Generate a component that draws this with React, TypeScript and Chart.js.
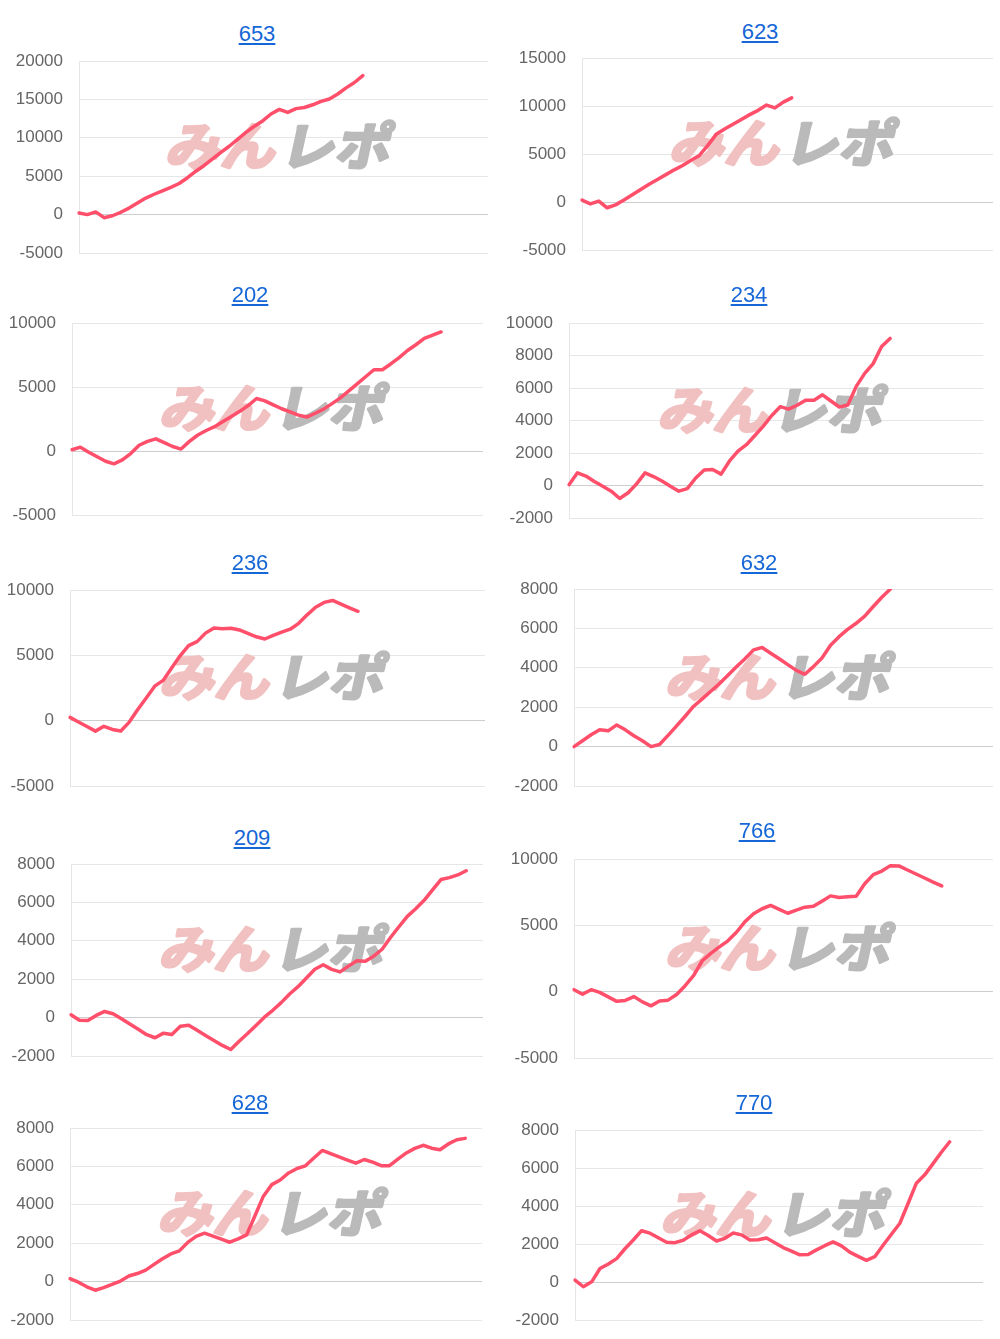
import React, { useEffect, useRef } from 'react';
import { Chart, registerables } from 'chart.js';

Chart.register(...registerables);

// ---------------- data ----------------
const SLOT_COUNT = 50;
const X_LABELS: string[] = Array.from({ length: SLOT_COUNT }, (_, i) => String(i + 1));

const TITLES = ['653', '623', '202', '234', '236', '632', '209', '766', '628', '770'];

const S653 = [200, 0, 350, -400, -150, 300, 850, 1500, 2150, 2650, 3100, 3550, 4050, 4800, 5650, 6400, 7250, 8100, 8900, 9800, 10700, 11500, 12200, 13100, 13700, 13300, 13800, 13950, 14300, 14750, 15050, 15700, 16500, 17200, 18100];
const S623 = [200, -200, 100, -600, -300, 200, 750, 1300, 1850, 2350, 2850, 3350, 3800, 4350, 4850, 5900, 7050, 7600, 8100, 8600, 9100, 9550, 10100, 9800, 10400, 10850];
const S202 = [100, 300, -100, -450, -800, -1000, -700, -200, 450, 750, 950, 650, 350, 150, 750, 1250, 1600, 1900, 2300, 2700, 3100, 3550, 4100, 3920, 3600, 3300, 3050, 2800, 2650, 2950, 3270, 3700, 4150, 4700, 5250, 5800, 6350, 6350, 6800, 7300, 7850, 8300, 8800, 9050, 9300];
const S234 = [50, 780, 580, 250, -50, -350, -800, -450, 100, 780, 550, 275, -40, -350, -190, 460, 960, 980, 700, 1510, 2120, 2510, 3080, 3650, 4310, 4850, 4700, 4940, 5250, 5250, 5580, 5200, 4830, 4950, 6100, 6900, 7500, 8550, 9050];
const S236 = [250, -100, -450, -800, -430, -670, -790, -110, 850, 1740, 2640, 3080, 4030, 4960, 5740, 6050, 6700, 7100, 7030, 7070, 6940, 6680, 6420, 6250, 6520, 6770, 7000, 7450, 8100, 8680, 9050, 9200, 8920, 8640, 8370];
const S632 = [0, 300, 600, 850, 800, 1100, 850, 550, 300, 0, 110, 570, 1050, 1540, 2050, 2420, 2810, 3190, 3620, 4050, 4460, 4910, 5030, 4740, 4460, 4160, 3870, 3670, 4060, 4500, 5140, 5580, 5950, 6260, 6620, 7110, 7580, 8000];
const S209 = [150, -140, -150, 115, 320, 200, -60, -335, -610, -890, -1050, -810, -880, -450, -400, -660, -930, -1190, -1450, -1660, -1230, -830, -410, 20, 380, 780, 1230, 1610, 2060, 2520, 2750, 2510, 2380, 2680, 2960, 2930, 3200, 3560, 4170, 4730, 5270, 5670, 6110, 6650, 7190, 7290, 7430, 7650];
const S766 = [150, -200, 150, -50, -390, -730, -660, -370, -770, -1070, -700, -640, -220, 450, 1230, 2330, 2890, 3380, 3830, 4480, 5280, 5870, 6250, 6500, 6210, 5910, 6150, 6370, 6430, 6820, 7220, 7100, 7150, 7200, 8130, 8820, 9090, 9500, 9480, 9170, 8870, 8570, 8260, 7970];
const S628 = [150, -30, -270, -450, -310, -150, 30, 290, 420, 600, 900, 1190, 1440, 1600, 2040, 2360, 2520, 2370, 2210, 2050, 2230, 2430, 3430, 4450, 5050, 5290, 5660, 5890, 6030, 6440, 6830, 6660, 6500, 6330, 6170, 6360, 6220, 6040, 6040, 6380, 6700, 6940, 7100, 6950, 6870, 7170, 7390, 7460];
const S770 = [100, -250, 10, 710, 950, 1230, 1750, 2210, 2700, 2570, 2330, 2090, 2070, 2200, 2480, 2700, 2450, 2160, 2300, 2580, 2480, 2210, 2220, 2320, 2070, 1810, 1620, 1430, 1450, 1690, 1910, 2110, 1900, 1570, 1350, 1140, 1330, 1930, 2510, 3080, 4130, 5200, 5640, 6230, 6830, 7380];

const SERIES = [S653, S623, S202, S234, S236, S632, S209, S766, S628, S770];

const Y_MIN = [-5000, -5000, -5000, -2000, -5000, -2000, -2000, -5000, -2000, -2000];
const Y_MAX = [20000, 15000, 10000, 10000, 10000, 8000, 8000, 10000, 8000, 8000];
const Y_STEP = [5000, 5000, 5000, 2000, 5000, 2000, 2000, 5000, 2000, 2000];

const WM_LEFT = 'みん';
const WM_RIGHT = 'レポ';

// ---------------- layout / style ----------------
// plot rectangle (left, right, top, bottom) and title centre, in page pixels
const PANELS = [
  { pl: 79, pr: 488, pt: 61, pb: 253, tx: 257, ty: 34 },
  { pl: 582, pr: 993, pt: 58, pb: 250, tx: 760, ty: 32 },
  { pl: 72, pr: 483, pt: 323, pb: 515, tx: 250, ty: 295 },
  { pl: 569, pr: 983, pt: 323, pb: 518, tx: 749, ty: 295 },
  { pl: 70, pr: 485, pt: 590, pb: 786, tx: 250, ty: 563 },
  { pl: 574, pr: 993, pt: 589, pb: 786, tx: 759, ty: 563 },
  { pl: 71, pr: 483, pt: 864, pb: 1056, tx: 252, ty: 838 },
  { pl: 574, pr: 993, pt: 859, pb: 1058, tx: 757, ty: 831 },
  { pl: 70, pr: 482, pt: 1128, pb: 1320, tx: 250, ty: 1103 },
  { pl: 575, pr: 983, pt: 1130, pb: 1320, tx: 754, ty: 1103 },
];

const AXIS_W = 80;
const PAD_T = 36;
const PAD_B = 36;
const PAD_R = 4;
const LINE_COLOR = '#ff4f6b';
const GRID_COLOR = '#e6e6e6';
const ZERO_COLOR = '#cdcdcd';
const TICK_COLOR = '#666666';
const TITLE_COLOR = '#1566d6';
const WM_PINK = '#f1c0c0';
const WM_GRAY = '#bababa';
const FONT_FAMILY = "'Liberation Sans', Arial, Helvetica, sans-serif";

const watermarkPlugin = {
  id: 'minrepoMark',
  beforeDatasetsDraw(chart: any) {
    const { ctx, chartArea: a } = chart;
    const cx = (a.left + a.right) / 2 - 2;
    const cy = (a.top + a.bottom) / 2 - 13;
    ctx.save();
    ctx.translate(cx, cy);
    ctx.transform(1, 0, -0.22, 1, 0, 0);
    ctx.scale(1.1, 1.02);
    ctx.font = "bold 50px 'Noto Sans CJK JP'";
    ctx.textBaseline = 'middle';
    ctx.lineJoin = 'round';
    ctx.lineWidth = 3;
    ctx.textAlign = 'right';
    ctx.fillStyle = WM_PINK;
    ctx.strokeStyle = WM_PINK;
    ctx.strokeText(WM_LEFT, -2, 2);
    ctx.fillText(WM_LEFT, -2, 2);
    ctx.textAlign = 'left';
    ctx.fillStyle = WM_GRAY;
    ctx.strokeStyle = WM_GRAY;
    ctx.strokeText(WM_RIGHT, 2, 2);
    ctx.fillText(WM_RIGHT, 2, 2);
    ctx.restore();
  },
};

function MiniChart({ idx }: { idx: number }) {
  const ref = useRef<HTMLCanvasElement | null>(null);
  const p = PANELS[idx];
  const left = Math.round(p.pl) - AXIS_W;
  const top = Math.round(p.pt) - PAD_T;
  const width = Math.round(p.pr) + PAD_R - left;
  const height = Math.round(p.pb) + PAD_B - top;

  useEffect(() => {
    if (!ref.current) return;
    const chart = new Chart(ref.current, {
      type: 'line',
      data: {
        labels: X_LABELS,
        datasets: [
          {
            data: SERIES[idx],
            borderColor: LINE_COLOR,
            backgroundColor: LINE_COLOR,
            borderWidth: 3.5,
            pointRadius: 0,
            tension: 0,
            fill: false,
            borderJoinStyle: 'round',
            borderCapStyle: 'round',
          },
        ],
      },
      options: {
        animation: false,
        responsive: false,
        devicePixelRatio: 1,
        layout: { padding: { left: 0, right: PAD_R, top: PAD_T, bottom: PAD_B } },
        plugins: {
          legend: { display: false },
          tooltip: { enabled: false },
          title: { display: false },
        },
        scales: {
          x: { display: false },
          y: {
            min: Y_MIN[idx],
            max: Y_MAX[idx],
            afterFit: (s: any) => {
              s.width = AXIS_W;
            },
            ticks: {
              stepSize: Y_STEP[idx],
              padding: 16,
              color: TICK_COLOR,
              font: { family: FONT_FAMILY, size: 17 },
              callback: (v: any) => String(v),
            },
            grid: {
              drawTicks: false,
              lineWidth: 1,
              color: (c: any) => (c.tick && c.tick.value === 0 ? ZERO_COLOR : GRID_COLOR),
            },
            border: { display: true, color: GRID_COLOR },
          },
        },
      },
      plugins: [watermarkPlugin],
    } as any);
    return () => chart.destroy();
  }, [idx]);

  return (
    <>
      <div
        style={{
          position: 'absolute',
          left: p.tx,
          top: p.ty,
          transform: 'translate(-50%, -50%)',
          fontFamily: FONT_FAMILY,
          fontSize: 22,
          lineHeight: 1,
          color: TITLE_COLOR,
          textDecoration: 'underline',
          whiteSpace: 'nowrap',
        }}
      >
        {TITLES[idx]}
      </div>
      <canvas
        ref={ref}
        width={width}
        height={height}
        style={{ position: 'absolute', left, top, width, height }}
      />
    </>
  );
}

export default function App() {
  return (
    <div
      style={{
        position: 'absolute',
        left: 0,
        top: 0,
        width: 1000,
        height: 1339,
        background: '#ffffff',
        overflow: 'hidden',
      }}
    >
      {TITLES.map((_, i) => (
        <MiniChart key={i} idx={i} />
      ))}
    </div>
  );
}
